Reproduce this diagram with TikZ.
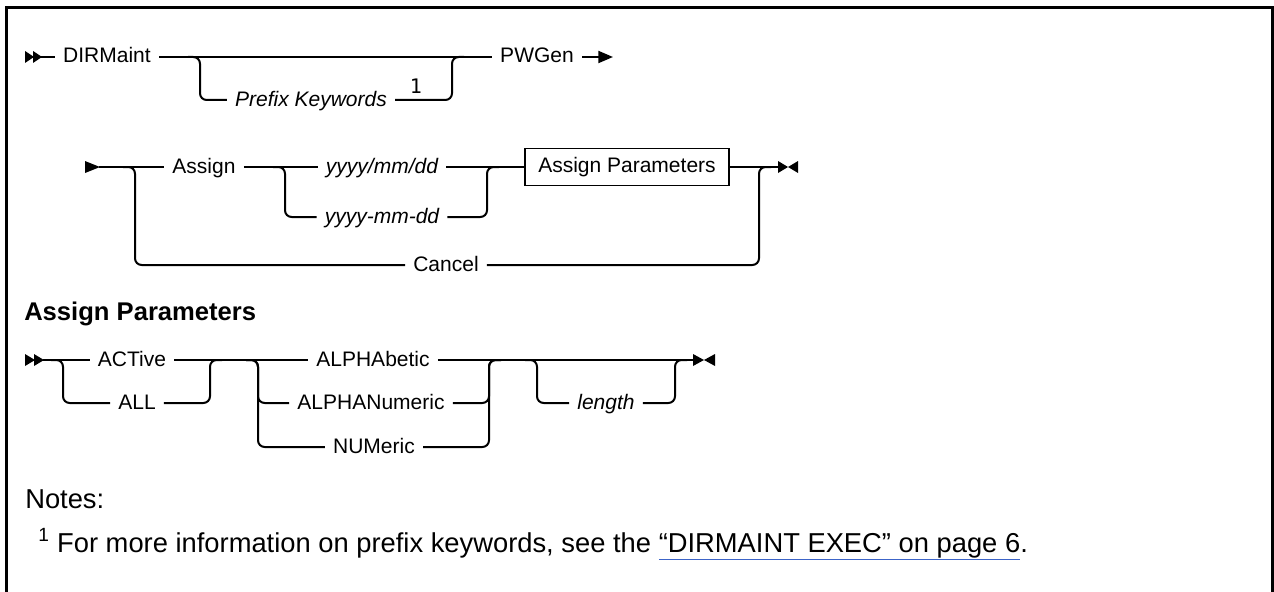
\documentclass[tikz,border=0pt]{standalone}
\usepackage{fontspec}
\setmainfont{Liberation Sans}
\newfontfamily\plexmono{DejaVu Sans Mono}
\usetikzlibrary{arrows.meta,calc}
\definecolor{linkblue}{RGB}{60,100,200}
\newcommand\rrfont{\fontsize{15.75}{18}\selectfont}
\newcommand\notesz{\fontsize{20.5}{24}\selectfont}
\newcommand\monosz{\plexmono\fontsize{15}{18}\selectfont}
\begin{document}
\begin{tikzpicture}[x=0.75pt,y=-0.75pt,
  rr/.style={line width=1.5pt, rounded corners=5pt},
  lbl/.style={inner xsep=6pt, inner ysep=0pt, text height=12.5pt, text depth=3.5pt, font=\rrfont},
  ilbl/.style={lbl, font=\rrfont\itshape},
  apbox/.style={draw, line width=1.1pt, minimum width=153pt, minimum height=27.5pt, inner sep=0pt, font=\rrfont},
  tipfill/.style={fill=black, draw=none}
]
\useasboundingbox (0,0) rectangle (1274,592);
% frame
\draw[line width=2.25pt] (6,600) -- (6,8) -- (1272.8,8) -- (1272.8,600);

% ---------- row 1 ----------
\coordinate (s1) at (25,57);
\fill[tipfill] ($(s1)+(0,-6)$) -- ++(9,6) -- ++(-9,6) -- cycle;
\fill[tipfill] ($(s1)+(8,-6)$) -- ++(9,6) -- ++(-9,6) -- cycle;
\coordinate (s1e) at (41,57);
\node[lbl] (dm) at (107,57) {DIRMaint};
\node[ilbl] (pk) at (311,100) {Prefix Keywords};
\node[font=\monosz, inner sep=0pt] (one) at (416,86) {1};
\node[lbl] (pw) at (537,57) {PWGen};
\coordinate (e1) at (613,57);
\draw[rr] (s1e) -- (dm.west);
\draw[rr] (dm.east) -- (pw.west);
\coordinate (j1a) at (188,57); \coordinate (j1) at (200,57);
\draw[rr] (j1a) -- (j1) |- (pk.west);
\coordinate (j2) at (452,57); \coordinate (j2a) at (464,57);
\draw[rr] (pk.east) -| (j2) -- (j2a);
\draw[line width=1.5pt, -{Triangle[length=11pt,width=9pt]}] (pw.east) -- (e1);

% ---------- row 2 ----------
\coordinate (s2) at (85,167);
\fill[tipfill] ($(s2)+(0,-6)$) -- ++(15,6) -- ++(-15,6) -- cycle;
\coordinate (s2e) at (99,167);
\node[lbl] (as) at (204,167) {Assign};
\node[ilbl] (y1) at (382,167) {yyyy/mm/dd};
\node[ilbl] (y2) at (382,217) {yyyy-mm-dd};
\node[apbox] (ap) at (627,167) {Assign Parameters};
\node[lbl] (cn) at (446,265) {Cancel};
\coordinate (end2) at (779,167);
\draw[rr] (s2e) -- (as.west);
\coordinate (c1a) at (123,167); \coordinate (c1) at (135,167);
\draw[rr] (c1a) -- (c1) |- (cn.west);
\draw[rr] (as.east) -- (y1.west);
\coordinate (c2a) at (273,167); \coordinate (c2) at (285,167);
\draw[rr] (c2a) -- (c2) |- (y2.west);
\draw[rr] (y1.east) -- (ap.west);
\coordinate (c3) at (487,167); \coordinate (c3a) at (499,167);
\draw[rr] (y2.east) -| (c3) -- (c3a);
\draw[rr] (ap.east) -- (end2);
\coordinate (c4) at (759,167); \coordinate (c4a) at (771,167);
\draw[rr] (cn.east) -| (c4) -- (c4a);
\fill[tipfill] ($(end2)+(-1,-6)$) -- ++(10,6) -- ++(-10,6) -- cycle;
\fill[tipfill] ($(end2)+(19,-6)$) -- ++(-10,6) -- ++(10,6) -- cycle;

% ---------- heading ----------
\node[anchor=base west, inner sep=0pt, font=\bfseries\fontsize{19.2}{22}\selectfont] (hd) at (24,320) {Assign Parameters};

% ---------- row 3 ----------
\coordinate (s3) at (25,360);
\fill[tipfill] ($(s3)+(0,-6)$) -- ++(10,6) -- ++(-10,6) -- cycle;
\fill[tipfill] ($(s3)+(9,-6)$) -- ++(10,6) -- ++(-10,6) -- cycle;
\coordinate (s3e) at (43,360);
\node[lbl] (ac) at (132,360) {ACTive};
\node[lbl] (al) at (137,403) {ALL};
\node[lbl] (ab) at (373,360) {ALPHAbetic};
\node[lbl] (an) at (371,403) {ALPHANumeric};
\node[lbl] (nu) at (374,447) {NUMeric};
\node[ilbl] (ln) at (606,403) {length};
\coordinate (end3) at (694,360);
\draw[rr] (s3e) -- (ac.west);
\coordinate (d1a) at (51,360); \coordinate (d1) at (63,360);
\draw[rr] (d1a) -- (d1) |- (al.west);
\draw[rr] (ac.east) -- (ab.west);
\coordinate (d2) at (210,360); \coordinate (d2a) at (222,360);
\draw[rr] (al.east) -| (d2) -- (d2a);
\coordinate (d3a) at (246,360); \coordinate (d3) at (258,360);
\draw[rr] (d3a) -- (d3) |- (an.west);
\draw[rr] (d3a) -- (d3) |- (nu.west);
\coordinate (d4) at (489,360); \coordinate (d4a) at (501,360);
\draw[rr] (an.east) -| (d4) -- (d4a);
\draw[rr] (nu.east) -| (d4) -- (d4a);
\draw[rr] (ab.east) -- (end3);
\coordinate (d5a) at (525,360); \coordinate (d5) at (537,360);
\draw[rr] (d5a) -- (d5) |- (ln.west);
\coordinate (d6) at (675,360); \coordinate (d6a) at (687,360);
\draw[rr] (ln.east) -| (d6) -- (d6a);
\fill[tipfill] ($(end3)+(-1,-6)$) -- ++(11,6) -- ++(-11,6) -- cycle;
\fill[tipfill] ($(end3)+(21,-6)$) -- ++(-11,6) -- ++(11,6) -- cycle;

% ---------- notes ----------
\node[anchor=base west, inner sep=0pt, font=\notesz] (notes) at (25,508) {Notes:};
\node[anchor=base west, inner sep=0pt, font=\notesz] (fn) at (38,552)
  {\textsuperscript{1} For more information on prefix keywords, see the {\color{linkblue}\underline{\color{black}“DIRMAINT EXEC” on page 6}}.};
\end{tikzpicture}
\end{document}
